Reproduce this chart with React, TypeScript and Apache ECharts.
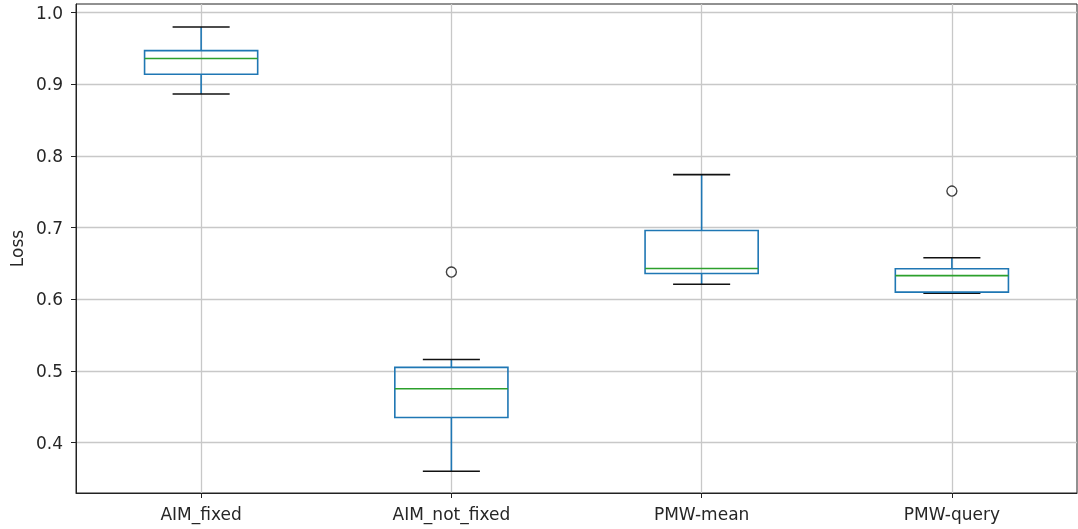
import React, { useEffect, useRef } from "react";
import * as echarts from "echarts";

const categories = ["AIM_fixed", "AIM_not_fixed", "PMW-mean", "PMW-query"];
const whiskerLow = [0.8865, 0.36, 0.621, 0.6085];
const q1 = [0.914, 0.435, 0.636, 0.61];
const median = [0.936, 0.475, 0.643, 0.633];
const q3 = [0.947, 0.505, 0.696, 0.6425];
const whiskerHigh = [0.98, 0.516, 0.774, 0.658];
const outlierCategory = [1, 3];
const outlierValue = [0.638, 0.751];
const yTicks = [0.4, 0.5, 0.6, 0.7, 0.8, 0.9, 1.0];
const xTicks = [0, 1, 2, 3];

export default function App() {
  const ref = useRef<HTMLDivElement>(null);
  useEffect(() => {
    if (!ref.current) return;
    const chart = echarts.init(ref.current, undefined, { renderer: "svg" });
    const font = "DejaVu Sans";
    const boxData = categories.map((_, i) => [i, whiskerLow[i], q1[i], median[i], q3[i], whiskerHigh[i]]);
    const outlierData = outlierCategory.map((c, i) => [c, outlierValue[i]]);
    chart.setOption({
      animation: false,
      grid: {
        left: 76,
        right: 1,
        top: 4,
        bottom: 36,
        show: true,
        borderColor: "#222",
        borderWidth: 1,
        backgroundColor: "transparent",
      },
      xAxis: {
        type: "value",
        min: -0.5,
        max: 3.5,
        axisLine: { show: true, onZero: false, lineStyle: { color: "#222", width: 1 } },
        axisTick: { show: true, customValues: xTicks, length: 5, lineStyle: { color: "#222" } },
        axisLabel: {
          customValues: xTicks,
          formatter: (v: number) => categories[Math.round(v)] ?? "",
          color: "#262626",
          fontSize: 17,
          fontFamily: font,
          margin: 12,
        },
        splitLine: { show: true, lineStyle: { color: "#c8c8c8", width: 1.3 } },
      },
      yAxis: {
        type: "value",
        min: 0.3296,
        max: 1.0121,
        name: "Loss",
        nameLocation: "middle",
        nameGap: 51,
        nameTextStyle: { color: "#262626", fontSize: 17, fontFamily: font },
        axisLine: { show: true, onZero: false, lineStyle: { color: "#222", width: 1 } },
        axisTick: { show: true, customValues: yTicks, length: 5, lineStyle: { color: "#222" } },
        axisLabel: {
          customValues: yTicks,
          formatter: (v: number) => v.toFixed(1),
          color: "#262626",
          fontSize: 17,
          fontFamily: font,
          margin: 13,
        },
        splitLine: { show: true, lineStyle: { color: "#c8c8c8", width: 1.3 } },
      },
      series: [
        {
          type: "custom",
          data: boxData,
          encode: { x: 0, y: [1, 2, 3, 4, 5] },
          renderItem: (params: any, api: any) => {
            const x = api.value(0);
            const pLow = api.coord([x, api.value(1)]);
            const pQ1 = api.coord([x, api.value(2)]);
            const pMed = api.coord([x, api.value(3)]);
            const pQ3 = api.coord([x, api.value(4)]);
            const pHigh = api.coord([x, api.value(5)]);
            const band = api.size([1, 0])[0];
            const bh = band * 0.226;
            const ch = band * 0.114;
            const cx = pLow[0];
            const blue = "#1f77b4";
            return {
              type: "group",
              children: [
                { type: "line", shape: { x1: cx, y1: pQ1[1], x2: cx, y2: pLow[1] }, style: { stroke: blue, lineWidth: 1.6 } },
                { type: "line", shape: { x1: cx, y1: pQ3[1], x2: cx, y2: pHigh[1] }, style: { stroke: blue, lineWidth: 1.6 } },
                { type: "line", shape: { x1: cx - ch, y1: pLow[1], x2: cx + ch, y2: pLow[1] }, style: { stroke: "#111", lineWidth: 1.6 } },
                { type: "line", shape: { x1: cx - ch, y1: pHigh[1], x2: cx + ch, y2: pHigh[1] }, style: { stroke: "#111", lineWidth: 1.6 } },
                {
                  type: "rect",
                  shape: { x: cx - bh, y: pQ3[1], width: bh * 2, height: pQ1[1] - pQ3[1] },
                  style: { fill: "none", stroke: blue, lineWidth: 1.6 },
                },
                { type: "line", shape: { x1: cx - bh, y1: pMed[1], x2: cx + bh, y2: pMed[1] }, style: { stroke: "#2ca02c", lineWidth: 1.6 } },
              ],
            };
          },
        },
        {
          type: "scatter",
          data: outlierData,
          symbol: "circle",
          symbolSize: 10,
          itemStyle: { color: "#ffffff", borderColor: "#111", borderWidth: 1.4 },
        },
      ],
    });
    return () => chart.dispose();
  }, []);
  return <div ref={ref} style={{ position: "fixed", left: 0, top: 0, width: 1078, height: 529 }} />;
}
